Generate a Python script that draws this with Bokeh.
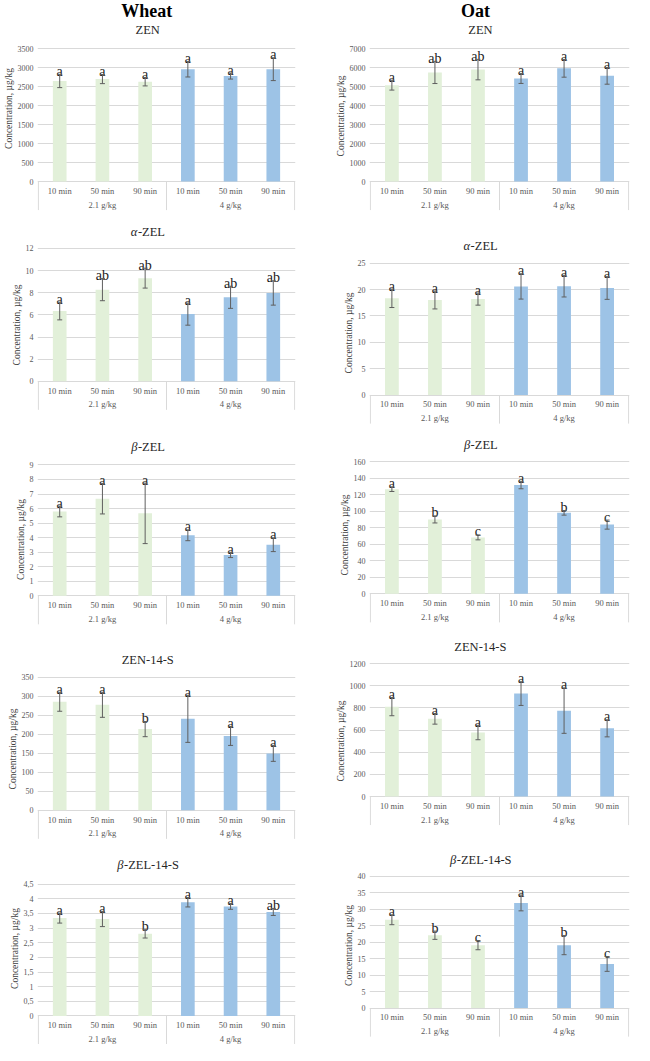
from bokeh.plotting import figure
from bokeh.models import ColumnDataSource, Range1d, FixedTicker, Whisker, TeeHead
from bokeh.layouts import row, column
from bokeh.embed import file_html
from bokeh.resources import INLINE
from bokeh.core.properties import value

# ---------------- data ----------------
crops = ["Wheat", "Oat"]
times = ["10 min", "50 min", "90 min"]
doses = ["2.1 g/kg", "4 g/kg"]
compounds = ["ZEN", "α-ZEL", "β-ZEL", "ZEN-14-S", "β-ZEL-14-S"]
y_label = "Concentration, µg/kg"

wheat_zen_mean = [2650, 2700, 2630, 2960, 2780, 2960]
wheat_zen_err = [175, 120, 110, 205, 80, 300]
wheat_zen_letters = ["a", "a", "a", "a", "a", "a"]
wheat_zen_ticks = [0, 500, 1000, 1500, 2000, 2500, 3000, 3500]

wheat_azel_mean = [6.35, 8.28, 9.32, 6.07, 7.59, 7.98]
wheat_azel_err = [0.8, 1.0, 0.9, 1.0, 1.0, 1.1]
wheat_azel_letters = ["a", "ab", "ab", "a", "ab", "ab"]
wheat_azel_ticks = [0, 2, 4, 6, 8, 10, 12]

wheat_bzel_mean = [5.8, 6.68, 5.67, 4.16, 2.81, 3.51]
wheat_bzel_err = [0.37, 1.05, 2.08, 0.37, 0.18, 0.47]
wheat_bzel_letters = ["a", "a", "a", "a", "a", "a"]
wheat_bzel_ticks = [0, 1, 2, 3, 4, 5, 6, 7, 8, 9]

wheat_zen14s_mean = [286, 278, 214, 241, 196, 150]
wheat_zen14s_err = [25, 33, 20, 62, 25, 21]
wheat_zen14s_letters = ["a", "a", "b", "a", "a", "a"]
wheat_zen14s_ticks = [0, 50, 100, 150, 200, 250, 300, 350]

wheat_bzel14s_mean = [3.34, 3.31, 2.81, 3.88, 3.74, 3.55]
wheat_bzel14s_err = [0.17, 0.26, 0.15, 0.16, 0.10, 0.12]
wheat_bzel14s_letters = ["a", "a", "b", "a", "a", "ab"]
wheat_bzel14s_ticks = [0, 0.5, 1, 1.5, 2, 2.5, 3, 3.5, 4, 4.5]

oat_zen_mean = [5080, 5750, 5900, 5430, 5965, 5570]
oat_zen_err = [260, 585, 540, 260, 465, 440]
oat_zen_letters = ["a", "ab", "ab", "a", "a", "a"]
oat_zen_ticks = [0, 1000, 2000, 3000, 4000, 5000, 6000, 7000]

oat_azel_mean = [18.35, 18.03, 18.2, 20.6, 20.65, 20.3]
oat_azel_err = [1.75, 1.7, 1.15, 2.4, 2.05, 2.15]
oat_azel_letters = ["a", "a", "a", "a", "a", "a"]
oat_azel_ticks = [0, 5, 10, 15, 20, 25]

oat_bzel_mean = [127, 90.3, 68.5, 132, 98.3, 84]
oat_bzel_err = [2.8, 4.3, 3.0, 4.5, 2.8, 5.5]
oat_bzel_letters = ["a", "b", "c", "a", "b", "c"]
oat_bzel_ticks = [0, 20, 40, 60, 80, 100, 120, 140, 160]

oat_zen14s_mean = [812, 702, 578, 930, 776, 616]
oat_zen14s_err = [82, 48, 65, 107, 205, 77]
oat_zen14s_letters = ["a", "a", "a", "a", "a", "a"]
oat_zen14s_ticks = [0, 200, 400, 600, 800, 1000, 1200]

oat_bzel14s_mean = [26.8, 22.1, 19.1, 31.9, 19.1, 13.4]
oat_bzel14s_err = [1.5, 1.25, 1.4, 2.4, 2.9, 2.25]
oat_bzel14s_letters = ["a", "b", "c", "a", "b", "c"]
oat_bzel14s_ticks = [0, 5, 10, 15, 20, 25, 30, 35, 40]

wheat_panels = [
    (wheat_zen_mean, wheat_zen_err, wheat_zen_letters, wheat_zen_ticks),
    (wheat_azel_mean, wheat_azel_err, wheat_azel_letters, wheat_azel_ticks),
    (wheat_bzel_mean, wheat_bzel_err, wheat_bzel_letters, wheat_bzel_ticks),
    (wheat_zen14s_mean, wheat_zen14s_err, wheat_zen14s_letters, wheat_zen14s_ticks),
    (wheat_bzel14s_mean, wheat_bzel14s_err, wheat_bzel14s_letters, wheat_bzel14s_ticks),
]
oat_panels = [
    (oat_zen_mean, oat_zen_err, oat_zen_letters, oat_zen_ticks),
    (oat_azel_mean, oat_azel_err, oat_azel_letters, oat_azel_ticks),
    (oat_bzel_mean, oat_bzel_err, oat_bzel_letters, oat_bzel_ticks),
    (oat_zen14s_mean, oat_zen14s_err, oat_zen14s_letters, oat_zen14s_ticks),
    (oat_bzel14s_mean, oat_bzel14s_err, oat_bzel14s_letters, oat_bzel14s_ticks),
]

# ---------------- layout / style ----------------
SX = 634 / 650
SY = 1044 / 1061
FONT = value("Liberation Serif")
GREEN = "#E2F0D9"
BLUE = "#9DC3E6"
GRID = "#D9D9D9"
GRAY = "#595959"
ERR = "#5F5F5F"
LETTER_GAP_PX = 3

# column geometry in reference pixels: col_x0, frame_left, frame_right, title_center, header_center
COLS = [(0, 33, 302, 148, 147), (325, 378, 645, 492, 487)]
# per panel: fig_top, fig_bottom, title_y, top_grid_y, zero_y
LAYOUT = [
    [(0, 220, 30, 49, 184), (220, 440, 235, 252, 387), (440, 656, 454, 472, 605),
     (656, 866, 670, 688, 823), (866, 1061, 879, 898, 1032)],
    [(0, 235, 30, 49, 184), (235, 441, 249, 267, 401), (441, 645, 452, 469, 603),
     (645, 860, 657, 674, 809), (860, 1061, 873, 890, 1024)],
]
HEADER_Y = 10.5

CHAR_W = {"-": 0.333, "Z": 0.611, "E": 0.611, "L": 0.611, "N": 0.722,
          "1": 0.5, "4": 0.5, "S": 0.556}


def fmt_tick(v):
    return ("%g" % v).replace(".", ",")


def make_panel(ci, k, data):
    means, errs, letters, ticks = data
    col_x0, fl, fr, tcx, hcx = COLS[ci]
    top_r, bot_r, title_r, grid_r, zero_r = LAYOUT[ci][k]

    p0 = round(top_r * SY)
    H = round(bot_r * SY) - p0

    def off(y):
        return y * SY - p0

    zero_o, grid_o = off(zero_r), off(grid_r)
    ymax = ticks[-1]
    u = ymax / (zero_o - grid_o)

    def ydat(yref):
        return (zero_o - off(yref)) * u

    fx0 = round(col_x0 * SX)
    W = round((col_x0 + 325) * SX) - fx0
    bl = round(fl * SX - fx0)
    br = W - round(fr * SX - fx0)
    fw = W - bl - br

    n = len(times) * len(doses)
    xs0, xs1 = -0.52, n - 0.5 + 0.02

    def xdat(xref):
        px = xref * SX - fx0
        return xs0 + (px - bl) / fw * (xs1 - xs0)

    p = figure(width=W, height=H, x_range=Range1d(xs0, xs1),
               y_range=Range1d(-(H - zero_o) * u, zero_o * u),
               output_backend="svg", toolbar_location=None,
               x_axis_type=None, min_border_left=bl, min_border_right=br,
               min_border_top=0, min_border_bottom=0)
    p.outline_line_color = None

    ax = p.yaxis[0]
    ax.ticker = FixedTicker(ticks=ticks)
    ax.bounds = (0, ymax)
    ax.major_label_overrides = {t: fmt_tick(t) for t in ticks}
    ax.axis_line_color = None
    ax.major_tick_line_color = None
    ax.minor_tick_line_color = None
    ax.major_tick_out = 0
    ax.major_tick_in = 0
    ax.major_label_standoff = 4
    ax.major_label_text_font = "Liberation Serif"
    ax.major_label_text_font_size = "8px"
    ax.major_label_text_color = GRAY
    ax.axis_label = y_label
    ax.axis_label_standoff = 1
    ax.axis_label_text_font = "Liberation Serif"
    ax.axis_label_text_font_size = "9.5px"
    ax.axis_label_text_font_style = "normal"
    ax.axis_label_text_color = "#404040"
    p.ygrid.ticker = FixedTicker(ticks=ticks)
    p.ygrid.grid_line_color = GRID
    p.ygrid.grid_line_width = 1

    xs = list(range(n))
    colors = [GREEN if i < len(times) else BLUE for i in xs]
    uppers = [m + e for m, e in zip(means, errs)]
    src = ColumnDataSource(dict(
        x=xs, top=means, upper=uppers,
        lower=[m - e for m, e in zip(means, errs)], color=colors, letter=letters,
        letter_y=[v + LETTER_GAP_PX * u for v in uppers]))

    p.vbar(x="x", top="top", bottom=0, width=0.32, fill_color="color",
           line_color=None, source=src)
    wh = Whisker(base="x", upper="upper", lower="lower", source=src,
                 line_color=ERR, line_width=1, level="overlay",
                 upper_head=TeeHead(size=5, line_color=ERR, line_width=1),
                 lower_head=TeeHead(size=5, line_color=ERR, line_width=1))
    p.add_layout(wh)
    p.text(x="x", y="letter_y", text="letter", source=src, text_font=FONT,
           text_font_size="14px", text_align="center", text_baseline="alphabetic",
           text_color="#1A1A1A")

    # multi-level category box
    cat_labels = [t for d in doses for t in times]
    p.text(x=xs, y=[ydat(zero_r + 9.5)] * n, text=cat_labels, text_font=FONT,
           text_font_size="8.5px", text_align="center", text_baseline="middle",
           text_color=GRAY)
    gx = [len(times) * g + (len(times) - 1) / 2 for g in range(len(doses))]
    p.text(x=gx, y=[ydat(zero_r + 23.5)] * len(doses), text=doses, text_font=FONT,
           text_font_size="8.5px", text_align="center", text_baseline="middle",
           text_color=GRAY)
    bx = [g * len(times) - 0.5 for g in range(len(doses) + 1)]
    p.segment(x0=bx, y0=[0] * len(bx), x1=bx, y1=[ydat(zero_r + 29)] * len(bx),
              line_color=GRID, line_width=1)

    # panel title (italic Greek prefix)
    title = compounds[k]
    tx, ty = xdat(tcx), ydat(title_r)
    fs = 12.5
    if title[0] in "αβ":
        rest = title[1:]
        wg = 0.52 * fs
        wr = sum(CHAR_W.get(c, 0.5) for c in rest) * fs
        xo = -(wg + wr) / 2 + wg
        p.text(x=[tx], y=[ty], text=[title[0]], text_font=FONT,
               text_font_size="%.1fpx" % fs, text_font_style="italic",
               text_align="right", text_baseline="middle", x_offset=xo,
               text_color="#262626")
        p.text(x=[tx], y=[ty], text=[rest], text_font=FONT,
               text_font_size="%.1fpx" % fs, text_align="left",
               text_baseline="middle", x_offset=xo + 0.5, text_color="#262626")
    else:
        p.text(x=[tx], y=[ty], text=[title], text_font=FONT,
               text_font_size="%.1fpx" % fs, text_align="center",
               text_baseline="middle", text_color="#262626")

    if k == 0:
        p.text(x=[xdat(hcx)], y=[ydat(HEADER_Y)], text=[crops[ci]], text_font=FONT,
               text_font_size="18px", text_font_style="bold", text_align="center",
               text_baseline="middle", text_color="#000000")
    return p


wheat_figs = [make_panel(0, k, d) for k, d in enumerate(wheat_panels)]
oat_figs = [make_panel(1, k, d) for k, d in enumerate(oat_panels)]
layout = row(column(*wheat_figs), column(*oat_figs))

open("out.html", "w").write(file_html(layout, INLINE))
